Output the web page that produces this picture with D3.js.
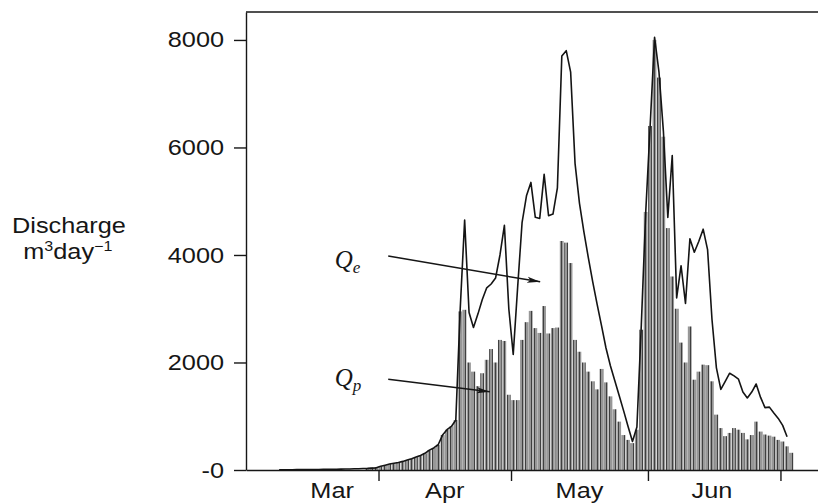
<!DOCTYPE html>
<html>
<head>
<meta charset="utf-8">
<script src="https://cdn.jsdelivr.net/npm/d3@7"></script>
<style>
body { margin: 0; background: #fff; }
text { font-family: "Liberation Sans", Arial, sans-serif; fill: #161616; }
</style>
</head>
<body>
<div id="chart-area"></div>
<script>
// days are counted from 1 March (1 Mar = 0)
var qpFirstDay = 28;
var qpValues = [
	30, 45, 55, 70, 90, 110, 125, 140, 160, 185, 210, 240, 270, 310, 370, 410, 470, 650, 750, 810, 930,
	2950, 2980, 2000, 1830, 1560, 1800, 2050, 2250, 2000, 2420, 2400, 1400, 1300, 1300,
	2420, 2750, 2960, 2640, 2550, 3050, 2540, 2640, 2650, 4260, 4230, 3850, 2420, 2200, 2000,
	1830, 1650, 1500, 1880, 1630, 1370, 1130, 900, 650, 560, 500, 750, 2610,
	4800, 6400, 8000, 7300, 6200, 4500, 3600, 3000, 2370, 2000, 2670, 1680, 1830, 1960, 1950,
	1650, 1030, 780, 630, 690, 780, 750, 690, 570, 650, 900, 715, 660, 640, 620, 560, 530, 440, 320
];
var qeFirstDay = 8;
var qeValues = [
	5, 5, 6, 6, 7, 8, 8, 9, 10, 10, 12, 13, 14, 15, 16, 18, 20, 22, 24, 27, 30, 35, 40,
	70, 90, 110, 125, 140, 160, 185, 210, 240, 270, 310, 370, 410, 470, 650, 750, 810, 930,
	3000, 4650, 2930, 2650, 2900, 3170, 3390, 3460, 3570, 4000, 4550, 3000, 2150, 3400,
	4600, 5100, 5350, 4700, 4680, 5500, 4730, 4760, 5250, 7700, 7800, 7400, 5700, 4960, 4430,
	3950, 3500, 3080, 2680, 2270, 1940, 1660, 1380, 1100, 810, 530, 800, 2700,
	4800, 6400, 8050, 7400, 6300, 4700, 5850, 3200, 3800, 3100, 4300, 4050, 4250, 4480, 4100,
	2800, 1900, 1500, 1650, 1800, 1750, 1690, 1450, 1340, 1450, 1600, 1350, 1160, 1170, 1060,
	960, 830, 620
];
var yTickValues = [0, 2000, 4000, 6000, 8000];
var yTickLabels = ["-0", "2000", "4000", "6000", "8000"];
var monthStarts = [31, 61, 92, 122];
var monthNames = ["Mar", "Apr", "May", "Jun"];
var monthMids = [20.5, 46, 76.5, 106.5];

var margin = {top: 12, left: 246};
var width = 572;
var height = 458;
var stretch = "scale(1.15,1)";

var svg = d3.select("#chart-area")
	.append("svg")
	.attr("width", 818)
	.attr("height", 504);

var defs = svg.append("defs");
var pat = defs.append("pattern")
	.attr("id", "hatch")
	.attr("patternUnits", "userSpaceOnUse")
	.attr("width", 3)
	.attr("height", 6);
pat.append("rect").attr("width", 3).attr("height", 6).attr("fill", "#979797");
pat.append("rect").attr("width", 1).attr("height", 6).attr("fill", "#404040");

defs.append("marker")
	.attr("id", "head")
	.attr("markerUnits", "userSpaceOnUse")
	.attr("markerWidth", 14)
	.attr("markerHeight", 7)
	.attr("refX", 13)
	.attr("refY", 3.5)
	.attr("orient", "auto")
	.append("path")
	.attr("d", "M0,0.5 L13,3.5 L0,6.5 L3,3.5 Z")
	.attr("fill", "#161616");

var g = svg.append("g")
	.attr("transform", "translate(" + margin.left + ", " + margin.top + ")");

var x = d3.scaleLinear().domain([1, 130.5]).range([0, width]);
var y = d3.scaleLinear().domain([0, 8520]).range([height, 0]);

var qp = qpValues.map((v, k) => { return {day: qpFirstDay + k, value: v}; });
var qe = qeValues.map((v, k) => { return {day: qeFirstDay + k, value: v}; });

// Qp bars
g.selectAll("rect.bar").data(qp)
	.enter()
	.append("rect")
	.attr("class", "bar")
	.attr("x", (d) => { return x(d.day) + 0.2; })
	.attr("y", (d) => { return y(d.value); })
	.attr("width", (d) => { return x(d.day + 1) - x(d.day) - 0.6; })
	.attr("height", (d) => { return height - y(d.value); })
	.attr("fill", "url(#hatch)");

// Qe line
var line = d3.line()
	.x((d) => { return x(d.day + 0.5); })
	.y((d) => { return y(d.value); });
g.append("path")
	.datum(qe)
	.attr("d", line)
	.attr("fill", "none")
	.attr("stroke", "#141414")
	.attr("stroke-width", 1.6)
	.attr("stroke-linejoin", "round");

// axes
var leftAxis = d3.axisLeft(y)
	.tickValues(yTickValues)
	.tickSizeInner(12)
	.tickSizeOuter(0)
	.tickPadding(10)
	.tickFormat((d, k) => { return yTickLabels[k]; });
var ya = g.append("g").attr("class", "y axis").call(leftAxis);
ya.selectAll("text")
	.attr("x", -22 / 1.15)
	.attr("transform", stretch)
	.style("font-size", "22px")
	.style("font-family", "Liberation Sans, Arial, sans-serif");

var bottomAxis = d3.axisBottom(x)
	.tickValues(monthStarts)
	.tickSizeInner(11)
	.tickSizeOuter(0)
	.tickFormat("");
g.append("g")
	.attr("class", "x axis")
	.attr("transform", "translate(0, " + height + ")")
	.call(bottomAxis);

svg.selectAll(".axis path, .axis line")
	.attr("stroke", "#161616")
	.attr("stroke-width", 1.4);

g.append("line")
	.attr("x1", 0).attr("x2", width)
	.attr("y1", 0).attr("y2", 0)
	.attr("stroke", "#161616")
	.attr("stroke-width", 1.4);

g.selectAll("text.month").data(monthNames)
	.enter()
	.append("text")
	.attr("class", "month")
	.attr("transform", (d, k) => { return "translate(" + x(monthMids[k]) + "," + (height + 28) + ") " + stretch; })
	.attr("text-anchor", "middle")
	.attr("font-size", "22px")
	.text((d) => { return d; });

// y axis title, two lines in one text
var title = svg.append("text")
	.attr("transform", "translate(69,233) " + stretch)
	.attr("text-anchor", "middle")
	.attr("font-size", "22px");
title.append("tspan").attr("x", 0).attr("y", 0).text("Discharge");
var l2 = title.append("tspan").attr("x", -1).attr("y", 26);
l2.append("tspan").text("m");
l2.append("tspan").attr("font-size", "14px").attr("dy", -8).text("3");
l2.append("tspan").attr("dy", 8).text("day");
l2.append("tspan").attr("font-size", "14px").attr("dy", -8).text("\u22121");

// labels with arrows
var notes = [
	{sub: "e", at: [21.1, 3760], from: [33.2, 3980], to: [67.6, 3500]},
	{sub: "p", at: [21.1, 1560], from: [33.2, 1690], to: [56.2, 1455]}
];
notes.forEach((n) => {
	var t = g.append("text")
		.attr("x", x(n.at[0]))
		.attr("y", y(n.at[1]))
		.style("font-family", "Liberation Serif, 'DejaVu Serif', serif")
		.style("font-style", "italic")
		.attr("font-size", "25px");
	t.append("tspan").text("Q");
	t.append("tspan").attr("font-size", "17px").attr("dy", 5).text(n.sub);
	g.append("line")
		.attr("x1", x(n.from[0])).attr("y1", y(n.from[1]))
		.attr("x2", x(n.to[0])).attr("y2", y(n.to[1]))
		.attr("stroke", "#161616")
		.attr("stroke-width", 1.5)
		.attr("marker-end", "url(#head)");
});
</script>
</body>
</html>
